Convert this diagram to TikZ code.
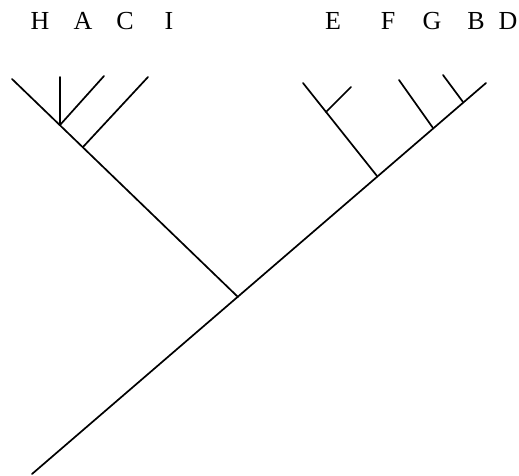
\documentclass[tikz,border=0pt]{standalone}
\usepackage{fontspec}
\setmainfont{Liberation Serif}
\begin{document}
\begin{tikzpicture}[x=1pt,y=-1pt,
  edge/.style={line width=1.7pt,line cap=round},
  lbl/.style={font=\fontsize{26}{28}\selectfont,anchor=base,inner sep=0pt}]
\useasboundingbox (0,0) rectangle (519,476);
% labels
\node[lbl] (lH) at (40,30) {H};
\node[lbl] (lA) at (83,30) {A};
\node[lbl] (lC) at (125,30) {C};
\node[lbl] (lI) at (169,30) {I};
\node[lbl] (lE) at (333,30) {E};
\node[lbl] (lF) at (388,30) {F};
\node[lbl] (lG) at (432,30) {G};
\node[lbl] (lB) at (476,30) {B};
\node[lbl] (lD) at (508,30) {D};
% tree coordinates
\coordinate (root) at (32,474);
\coordinate (n1) at (238,297);
\coordinate (nEF) at (377,176);
\coordinate (nG) at (433,128);
\coordinate (nB) at (463,102);
\coordinate (tD) at (486,83);
\coordinate (nHAC) at (83,147);
\coordinate (nHA) at (60,125);
\coordinate (tH) at (12,79);
\coordinate (tA) at (60,77);
\coordinate (tC) at (104,76);
\coordinate (tI) at (148,77);
\coordinate (nE) at (326,112);
\coordinate (tE) at (303,83);
\coordinate (tF) at (351,87);
\coordinate (tG) at (399,80);
\coordinate (tB) at (443,75);
% edges
\draw[edge] (root) -- (tD);
\draw[edge] (n1) -- (tH);
\draw[edge] (nHA) -- (tA);
\draw[edge] (nHA) -- (tC);
\draw[edge] (nHAC) -- (tI);
\draw[edge] (nEF) -- (tE);
\draw[edge] (nE) -- (tF);
\draw[edge] (nG) -- (tG);
\draw[edge] (nB) -- (tB);
\end{tikzpicture}
\end{document}
